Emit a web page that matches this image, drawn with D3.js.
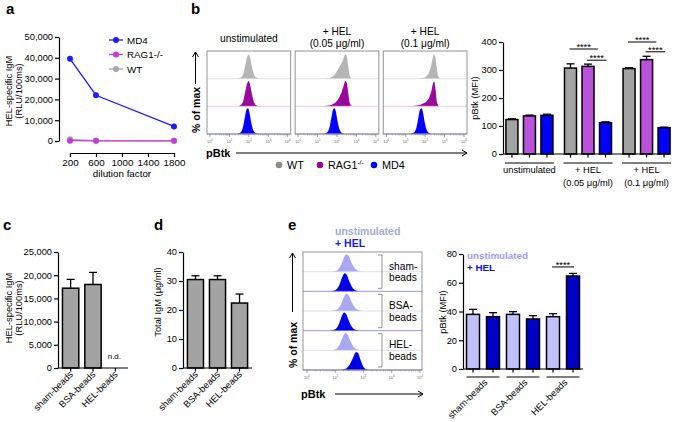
<!DOCTYPE html>
<html>
<head>
<meta charset="utf-8">
<script src="https://cdnjs.cloudflare.com/ajax/libs/d3/7.8.5/d3.min.js"></script>
<style>
  body { margin: 0; background: #fff; }
</style>
</head>
<body>
<div id="fig"></div>
<script>
// ---------- data ----------
// a: HEL-specific IgM vs serum dilution
var dilutions = [200, 600, 1800];
var aMD4 = [39500, 22000, 7000];
var aRAG = [150, 100, 100];
var aWT = [800, 150, 100];
var aTicksY = [0, 10000, 20000, 30000, 40000, 50000];
var aTicksX = [200, 600, 1000, 1400, 1800];

// b: pBtk histograms, [log10 intensity, fraction of max]
var bConds = ["unstimulated", "hel005", "hel01"];
var bGenos = ["WT", "RAG1", "MD4"];
var bHistWT = [
  [[1.4,0],[1.6,0.05],[1.72,0.2],[1.82,0.5],[1.92,0.8],[1.99,0.87],[2.06,0.76],[2.15,0.45],[2.25,0.17],[2.38,0.04],[2.55,0]],
  [[1.4,0],[1.65,0.03],[1.85,0.12],[2.0,0.27],[2.12,0.42],[2.25,0.58],[2.35,0.76],[2.43,0.88],[2.5,0.82],[2.57,0.5],[2.64,0.15],[2.75,0]],
  [[1.6,0],[1.9,0.03],[2.08,0.1],[2.2,0.22],[2.3,0.45],[2.38,0.72],[2.45,0.88],[2.52,0.8],[2.59,0.45],[2.66,0.12],[2.78,0]]
];
var bHistRAG = [
  [[1.4,0],[1.6,0.06],[1.72,0.22],[1.82,0.55],[1.92,0.85],[1.99,0.92],[2.06,0.8],[2.15,0.47],[2.25,0.18],[2.38,0.04],[2.55,0]],
  [[0.8,0],[1.5,0.02],[1.8,0.08],[1.98,0.18],[2.12,0.33],[2.24,0.52],[2.34,0.74],[2.43,0.92],[2.5,0.86],[2.58,0.48],[2.65,0.14],[2.76,0]],
  [[1.1,0],[1.6,0.03],[1.9,0.1],[2.1,0.2],[2.22,0.33],[2.32,0.55],[2.4,0.82],[2.47,0.9],[2.54,0.6],[2.61,0.15],[2.72,0]]
];
var bHistMD4 = [
  [[1.38,0],[1.58,0.06],[1.7,0.25],[1.8,0.62],[1.89,0.9],[1.96,0.93],[2.03,0.78],[2.12,0.42],[2.22,0.15],[2.35,0.03],[2.5,0]],
  [[1.3,0],[1.5,0.06],[1.62,0.25],[1.72,0.62],[1.81,0.9],[1.88,0.93],[1.95,0.78],[2.04,0.42],[2.14,0.15],[2.27,0.03],[2.42,0]],
  [[1.24,0],[1.44,0.06],[1.56,0.25],[1.66,0.62],[1.75,0.9],[1.82,0.93],[1.89,0.78],[1.98,0.42],[2.08,0.15],[2.21,0.03],[2.36,0]]
];

// b: pBtk MFI bars
var bWT = [123, 307, 305];
var bRAG = [136, 313, 337];
var bMD4 = [138, 112, 94];
var bWTerr = [3, 15, 3];
var bRAGerr = [3, 8, 12];
var bMD4err = [4, 3, 2];
var bTicksY = [0, 100, 200, 300, 400];
// significance bars: group, from bar, to bar, height (MFI)
var bSigGroup = [1, 1, 2, 2];
var bSigFrom = [0, 1, 0, 1];
var bSigTo = [1.5, 2, 1.5, 2];
var bSigAt = [375, 335, 400, 365];

// c: HEL-specific IgM after bead immunisation
var beads = ["sham-beads", "BSA-beads", "HEL-beads"];
var cMean = [17200, 18000, null];
var cErr = [1900, 2600, null];
var cTicksY = [0, 5000, 10000, 15000, 20000, 25000];

// d: total IgM
var dMean = [30.5, 30.5, 22.4];
var dErr = [1.3, 1.3, 3.1];
var dTicksY = [0, 10, 20, 30, 40];

// e: pBtk histograms per bead group (unstimulated / + HEL)
var eLanes = ["shamU", "shamH", "bsaU", "bsaH", "helU", "helH"];
var eHist = [
  [[0.85,0],[1.05,0.06],[1.18,0.28],[1.29,0.65],[1.39,0.88],[1.46,0.84],[1.56,0.52],[1.68,0.2],[1.83,0.04],[2.0,0]],
  [[0.8,0],[1.0,0.06],[1.13,0.28],[1.24,0.7],[1.33,0.92],[1.4,0.86],[1.5,0.5],[1.62,0.17],[1.77,0.03],[1.95,0]],
  [[0.85,0],[1.05,0.06],[1.18,0.28],[1.29,0.65],[1.39,0.88],[1.46,0.84],[1.56,0.52],[1.68,0.2],[1.83,0.04],[2.0,0]],
  [[0.78,0],[0.98,0.06],[1.11,0.28],[1.22,0.7],[1.31,0.92],[1.38,0.86],[1.48,0.5],[1.6,0.17],[1.75,0.03],[1.92,0]],
  [[0.82,0],[1.02,0.06],[1.15,0.28],[1.26,0.65],[1.35,0.88],[1.42,0.84],[1.52,0.52],[1.64,0.2],[1.79,0.04],[1.96,0]],
  [[1.15,0],[1.35,0.05],[1.5,0.25],[1.63,0.62],[1.73,0.9],[1.8,0.88],[1.9,0.5],[2.0,0.15],[2.12,0.03],[2.28,0]]
];
var eBracketLabels = [["sham-", "beads"], ["BSA-", "beads"], ["HEL-", "beads"]];

// e: pBtk MFI bars
var eUnstim = [38, 38, 36.4];
var eUnstimErr = [3.5, 1.9, 2.1];
var eHEL = [36.4, 34.8, 64.7];
var eHELerr = [2.8, 2.3, 1.8];
var eTicksY = [0, 20, 40, 60, 80];

// ---------- drawing ----------
var FONT = '"Liberation Sans", Arial, Helvetica, sans-serif';
var svg = d3.select("#fig").append("svg")
  .attr("width", 675).attr("height", 422)
  .attr("font-family", FONT);

function letter(t, x, y) {
  svg.append("text").attr("x", x).attr("y", y).attr("font-size", 15)
    .attr("font-weight", "bold").text(t);
}

function styleAxis(s, size) {
  s.attr("font-family", FONT).attr("font-size", size || 9.3);
  s.selectAll("path, line").attr("stroke", "#000").attr("stroke-width", 1.2);
  s.selectAll("text").attr("fill", "#000");
}

function leftAxis(y, x, ticks, fmt) {
  svg.append("g").attr("transform", "translate(" + x + ",0)")
    .call(d3.axisLeft(y).tickValues(ticks).tickFormat(fmt).tickSize(4).tickSizeOuter(0).tickPadding(2))
    .call(function (s) { styleAxis(s); });
}

function yTitle(lines, x, y, size) {
  var t = svg.append("text").attr("transform", "translate(" + x + "," + y + ") rotate(-90)")
    .attr("text-anchor", "middle").attr("font-size", size || 9.3);
  lines.forEach(function (l, i) {
    t.append("tspan").attr("x", 0).attr("dy", i ? "1.1em" : 0).text(l);
  });
  return t;
}

function bars(g, xs, y, vals, errs, fill, w) {
  vals.forEach(function (v, i) {
    if (v == null) return;
    var x = xs[i];
    g.append("line").attr("x1", x + w / 2).attr("x2", x + w / 2)
      .attr("y1", y(v)).attr("y2", y(v + errs[i])).attr("stroke", "#000").attr("stroke-width", 1.3);
    g.append("line").attr("x1", x + w / 2 - 4).attr("x2", x + w / 2 + 4)
      .attr("y1", y(v + errs[i])).attr("y2", y(v + errs[i])).attr("stroke", "#000").attr("stroke-width", 1.3);
    g.append("rect").attr("x", x).attr("y", y(v)).attr("width", w).attr("height", y(0) - y(v))
      .attr("fill", fill).attr("stroke", "#000").attr("stroke-width", 1.5);
  });
}

function baseAxis(x0, x1, y0, tickXs) {
  svg.append("line").attr("x1", x0).attr("x2", x1).attr("y1", y0).attr("y2", y0)
    .attr("stroke", "#000").attr("stroke-width", 1.2);
  tickXs.forEach(function (x) {
    svg.append("line").attr("x1", x).attr("x2", x).attr("y1", y0).attr("y2", y0 + 3.5)
      .attr("stroke", "#000").attr("stroke-width", 1.2);
  });
}

function rotLabels(names, xs, y0) {
  names.forEach(function (n, i) {
    svg.append("text").attr("transform", "translate(" + xs[i] + "," + y0 + ") rotate(-45)")
      .attr("text-anchor", "end").attr("font-size", 9.3).text(n);
  });
}

function logAxis(g, lx, y0) {
  var majors = [1, 10, 100, 1000, 10000];
  var minors = [];
  for (var k = 0; k < 4; k++) for (var m = 2; m < 10; m++) minors.push(m * Math.pow(10, k));
  g.selectAll(null).data(minors).join("line")
    .attr("x1", lx).attr("x2", lx).attr("y1", y0).attr("y2", y0 + 1.5)
    .attr("stroke", "#888").attr("stroke-width", 0.5);
  g.selectAll(null).data(majors).join("line")
    .attr("x1", lx).attr("x2", lx).attr("y1", y0).attr("y2", y0 + 3)
    .attr("stroke", "#777").attr("stroke-width", 0.7);
  var t = g.selectAll(null).data(majors).join("text")
    .attr("x", lx).attr("y", y0 + 8.5).attr("text-anchor", "middle")
    .attr("font-size", 3.8).attr("fill", "#666");
  t.append("tspan").text("10");
  t.append("tspan").attr("dy", -1.6).attr("font-size", 2.8).text(function (d) { return Math.round(Math.log10(d)); });
}

function histo(g, pts, lx, y0, y1, fill) {
  var hy = d3.scaleLinear().domain([0, 1]).range([y0, y1]);
  g.append("path").datum(pts)
    .attr("fill", fill)
    .attr("d", d3.area().curve(d3.curveMonotoneX)
      .x(function (d) { return lx(Math.pow(10, d[0])); })
      .y0(y0).y1(function (d) { return hy(d[1]); }));
}

function arrowHead(x, y, dir) {
  // dir: "up" or "right"
  var p = dir === "up" ? [[x - 3, y + 5], [x, y], [x + 3, y + 5]] : [[x - 5, y - 3], [x, y], [x - 5, y + 3]];
  svg.append("path").attr("d", d3.line()(p)).attr("fill", "none").attr("stroke", "#000").attr("stroke-width", 1);
}

// ----- panel a -----
letter("a", 6, 14);
var xA = d3.scaleLinear().domain([200, 1800]).range([70, 174]);
var yA = d3.scaleLinear().domain([0, 50000]).range([141, 37]);
leftAxis(yA, 59, aTicksY, d3.format(","));
svg.append("g").attr("transform", "translate(0,153)")
  .call(d3.axisBottom(xA).tickValues(aTicksX).tickFormat(d3.format("d")).tickSize(4).tickSizeOuter(0).tickPadding(2))
  .call(function (s) { styleAxis(s, 9.8); });
yTitle(["HEL-specific IgM", "(RLU/100ms)"], 12, 91, 9.3);
svg.append("text").attr("x", 122).attr("y", 177).attr("text-anchor", "middle").attr("font-size", 9.8).text("dilution factor");

var aSeries = [
  { name: "WT", vals: aWT, color: "#a6a6a6" },
  { name: "MD4", vals: aMD4, color: "#1c1cff" },
  { name: "RAG1-/-", vals: aRAG, color: "#c43bdc" }
];
var lineA = d3.line().x(function (d, i) { return xA(dilutions[i]); }).y(function (d) { return yA(d); });
aSeries.forEach(function (s) {
  svg.append("path").attr("d", lineA(s.vals)).attr("fill", "none").attr("stroke", s.color).attr("stroke-width", 1.3);
  svg.selectAll(null).data(s.vals).join("circle")
    .attr("cx", function (d, i) { return xA(dilutions[i]); }).attr("cy", function (d) { return yA(d); })
    .attr("r", 3).attr("fill", s.color);
});
var aLegend = [aSeries[1], aSeries[2], aSeries[0]];
var aLegY = d3.scalePoint().domain(aLegend.map(function (s) { return s.name; })).range([40, 69]);
aLegend.forEach(function (s) {
  var y = aLegY(s.name);
  svg.append("line").attr("x1", 109).attr("x2", 123).attr("y1", y).attr("y2", y).attr("stroke", s.color).attr("stroke-width", 1.3);
  svg.append("circle").attr("cx", 116).attr("cy", y).attr("r", 3).attr("fill", s.color);
  svg.append("text").attr("x", 127).attr("y", y + 3.5).attr("font-size", 9.8).text(s.name);
});

// ----- panel b histograms -----
letter("b", 191, 14);
var xBox = d3.scaleBand().domain(bConds).range([207, 467]).paddingInner(0.05);
var yLane = d3.scaleBand().domain(bGenos).range([51, 134]);
var bHistColors = ["#b5b5b5", "#9a0a9a", "#0000ff"];
var bLineColors = ["#dddddd", "#f0b8f0", "#9090ff"];
var bHists = [bHistWT, bHistRAG, bHistMD4];
bConds.forEach(function (c, ci) {
  var bx = xBox(c), bw = xBox.bandwidth();
  var lx = d3.scaleLog().domain([1, 1e4]).range([bx + 3, bx + bw - 3]);
  var g = svg.append("g");
  bGenos.forEach(function (gn, gi) {
    var top = yLane(gn), bot = top + yLane.bandwidth();
    histo(g, bHists[gi][ci], lx, bot, top, bHistColors[gi]);
    g.append("line").attr("x1", bx).attr("x2", bx + bw).attr("y1", bot).attr("y2", bot)
      .attr("stroke", bLineColors[gi]).attr("stroke-width", 0.8);
  });
  g.append("rect").attr("x", bx).attr("y", 51).attr("width", bw).attr("height", 83)
    .attr("fill", "none").attr("stroke", "#888").attr("stroke-width", 0.9);
  logAxis(g, lx, 134);
});
var bTitles = [["unstimulated"], ["+ HEL", "(0.05 μg/ml)"], ["+ HEL", "(0.1 μg/ml)"]];
bTitles.forEach(function (lines, i) {
  var cx = xBox(bConds[i]) + xBox.bandwidth() / 2;
  lines.forEach(function (l, j) {
    var y = lines.length === 1 ? 42 : 35 + j * 12;
    svg.append("text").attr("x", cx).attr("y", y).attr("text-anchor", "middle").attr("font-size", 10.2).text(l);
  });
});
svg.append("text").attr("transform", "translate(200,133) rotate(-90)").attr("font-size", 10.5)
  .attr("font-weight", "bold").text("% of max");
svg.append("line").attr("x1", 195.5).attr("x2", 195.5).attr("y1", 84).attr("y2", 52).attr("stroke", "#000").attr("stroke-width", 1);
arrowHead(195.5, 52, "up");
svg.append("text").attr("x", 206).attr("y", 157).attr("font-size", 11).attr("font-weight", "bold").text("pBtk");
svg.append("line").attr("x1", 236).attr("x2", 467).attr("y1", 153).attr("y2", 153).attr("stroke", "#000").attr("stroke-width", 1);
arrowHead(467, 153, "right");
var bLegColors = ["#8c8c8c", "#8e0a8e", "#0000ff"];
var bLegX = [279, 320, 374];
var bLegText = ["WT", "RAG1", "MD4"];
bLegText.forEach(function (t, i) {
  svg.append("circle").attr("cx", bLegX[i]).attr("cy", 165).attr("r", 3.3).attr("fill", bLegColors[i]);
  var tx = svg.append("text").attr("x", bLegX[i] + 8).attr("y", 169).attr("font-size", 10.8).text(t);
  if (i === 1) tx.append("tspan").attr("dy", -4).attr("font-size", 6.5).text("-/-");
});

// ----- panel b bars -----
var x0B = d3.scaleBand().domain(bConds).range([503, 673]).paddingInner(0.197).paddingOuter(0.05);
var x1B = d3.scaleBand().domain(bGenos).range([0, x0B.bandwidth()]).paddingInner(0.314);
var yB = d3.scaleLinear().domain([0, 400]).range([154, 42]);
leftAxis(yB, 503, bTicksY, d3.format("d"));
yTitle(["pBtk (MFI)"], 478, 98, 9.3);
var bVals = [bWT, bRAG, bMD4], bErrs = [bWTerr, bRAGerr, bMD4err];
var bBarColors = ["#a3a3a3", "#bb52db", "#0000ff"];
var gB = svg.append("g");
var bTickXs = [];
bGenos.forEach(function (gn, gi) {
  var xs = bConds.map(function (c) { return x0B(c) + x1B(gn); });
  xs.forEach(function (x) { bTickXs.push(x + x1B.bandwidth() / 2); });
  bars(gB, xs, yB, bVals[gi], bErrs[gi], bBarColors[gi], x1B.bandwidth());
});
baseAxis(503, 670, yB(0), bTickXs);
function barCenter(gi, pos) {
  var step = x1B.step();
  return x0B(bConds[gi]) + x1B.bandwidth() / 2 + pos * step;
}
bSigAt.forEach(function (v, i) {
  var xa = barCenter(bSigGroup[i], bSigFrom[i]) - 1, xb = barCenter(bSigGroup[i], bSigTo[i]) + 1;
  svg.append("line").attr("x1", xa).attr("x2", xb).attr("y1", yB(v)).attr("y2", yB(v)).attr("stroke", "#000").attr("stroke-width", 1);
  svg.append("text").attr("x", (xa + xb) / 2).attr("y", yB(v) + 1).attr("text-anchor", "middle").attr("font-size", 9.3).text("****");
});
var bGroupLabels = [["unstimulated"], ["+ HEL", "(0.05 μg/ml)"], ["+ HEL", "(0.1 μg/ml)"]];
bConds.forEach(function (c, i) {
  var gx = x0B(c), gw = x0B.bandwidth();
  svg.append("line").attr("x1", gx - 1).attr("x2", gx + gw + 1).attr("y1", 163).attr("y2", 163).attr("stroke", "#000").attr("stroke-width", 1);
  bGroupLabels[i].forEach(function (l, j) {
    svg.append("text").attr("x", gx + gw / 2).attr("y", 173 + j * 13).attr("text-anchor", "middle").attr("font-size", 9.3).text(l);
  });
});

// ----- panel c -----
letter("c", 3, 230);
var yC = d3.scaleLinear().domain([0, 25000]).range([368, 252]);
var xC = d3.scaleBand().domain(beads).range([58, 128]).paddingInner(0.27).paddingOuter(0.2);
leftAxis(yC, 58, cTicksY, d3.format(","));
yTitle(["HEL-specific IgM", "(RLU/100ms)"], 12, 308, 9.3);
bars(svg.append("g"), beads.map(function (b) { return xC(b); }), yC, cMean, cErr, "#a3a3a3", xC.bandwidth());
var cCenters = beads.map(function (b) { return xC(b) + xC.bandwidth() / 2; });
baseAxis(58, 128, yC(0), cCenters);
svg.append("text").attr("x", cCenters[2] - 1).attr("y", 359).attr("text-anchor", "middle").attr("font-size", 8).text("n.d.");
rotLabels(beads, cCenters.map(function (x) { return x + 3; }), 375);

// ----- panel d -----
letter("d", 154, 230);
var yD = d3.scaleLinear().domain([0, 40]).range([368, 252]);
var xD = d3.scaleBand().domain(beads).range([183, 252]).paddingInner(0.27).paddingOuter(0.2);
leftAxis(yD, 183, dTicksY, d3.format("d"));
yTitle(["Total IgM (μg/ml)"], 161, 302, 9.3);
bars(svg.append("g"), beads.map(function (b) { return xD(b); }), yD, dMean, dErr, "#a3a3a3", xD.bandwidth());
var dCenters = beads.map(function (b) { return xD(b) + xD.bandwidth() / 2; });
baseAxis(183, 252, yD(0), dCenters);
rotLabels(beads, dCenters.map(function (x) { return x + 3; }), 375);

// ----- panel e histograms -----
letter("e", 288, 230);
var eBoxX = 303, eBoxW = 119, eTop = 252, eBot = 370;
var yLaneE = d3.scaleBand().domain(eLanes).range([eTop, eBot]);
var lxE = d3.scaleLog().domain([1, 1e4]).range([eBoxX + 4, eBoxX + eBoxW - 2]);
var gE = svg.append("g");
eLanes.forEach(function (ln, i) {
  var top = yLaneE(ln), bot = top + yLaneE.bandwidth();
  var light = i % 2 === 0;
  histo(gE, eHist[i], lxE, bot, top, light ? "#a9a9f2" : "#0000e8");
  gE.append("line").attr("x1", eBoxX).attr("x2", eBoxX + eBoxW).attr("y1", bot).attr("y2", bot)
    .attr("stroke", light ? "#d4d4f6" : "#7c7ce8").attr("stroke-width", 0.8);
});
gE.append("rect").attr("x", eBoxX).attr("y", eTop).attr("width", eBoxW).attr("height", eBot - eTop)
  .attr("fill", "none").attr("stroke", "#888").attr("stroke-width", 0.9);
logAxis(gE, lxE, eBot);
eBracketLabels.forEach(function (lab, i) {
  var top = yLaneE(eLanes[i * 2]) + 3, bot = yLaneE(eLanes[i * 2 + 1]) + yLaneE.bandwidth() - 3;
  svg.append("path").attr("d", d3.line()([[378, top], [382, top], [382, bot], [378, bot]]))
    .attr("fill", "none").attr("stroke", "#888").attr("stroke-width", 0.9);
  lab.forEach(function (l, j) {
    svg.append("text").attr("x", 389).attr("y", (top + bot) / 2 - 2 + j * 11.5).attr("font-size", 10.2).text(l);
  });
});
svg.append("text").attr("x", 335).attr("y", 235).attr("font-size", 10.5).attr("font-weight", "bold")
  .attr("fill", "#a3a9d8").text("unstimulated");
svg.append("text").attr("x", 335).attr("y", 247).attr("font-size", 10.5).attr("font-weight", "bold")
  .attr("fill", "#1a1aee").text("+ HEL");
svg.append("text").attr("transform", "translate(297,368) rotate(-90)").attr("font-size", 10.5)
  .attr("font-weight", "bold").text("% of max");
svg.append("line").attr("x1", 292.5).attr("x2", 292.5).attr("y1", 312).attr("y2", 253).attr("stroke", "#000").attr("stroke-width", 1);
arrowHead(292.5, 253, "up");
svg.append("text").attr("x", 301).attr("y", 398).attr("font-size", 11).attr("font-weight", "bold").text("pBtk");
svg.append("line").attr("x1", 335).attr("x2", 423).attr("y1", 394).attr("y2", 394).attr("stroke", "#000").attr("stroke-width", 1);
arrowHead(423, 394, "right");

// ----- panel e bars -----
var eStim = ["unstim", "hel"];
var x0E = d3.scaleBand().domain(beads).range([463, 583]).paddingInner(0.175).paddingOuter(0.0875);
var x1E = d3.scaleBand().domain(eStim).range([0, x0E.bandwidth()]).paddingInner(0.35);
var yE = d3.scaleLinear().domain([0, 80]).range([369, 254]);
leftAxis(yE, 463, eTicksY, d3.format("d"));
yTitle(["pBtk (MFI)"], 446, 312, 9.3);
var gEB = svg.append("g");
bars(gEB, beads.map(function (b) { return x0E(b) + x1E("unstim"); }), yE, eUnstim, eUnstimErr, "#c1c1ff", x1E.bandwidth());
bars(gEB, beads.map(function (b) { return x0E(b) + x1E("hel"); }), yE, eHEL, eHELerr, "#0000c4", x1E.bandwidth());
var eTickXs = [];
beads.forEach(function (b) {
  eStim.forEach(function (s) { eTickXs.push(x0E(b) + x1E(s) + x1E.bandwidth() / 2); });
});
baseAxis(463, 583, yE(0), eTickXs);
beads.forEach(function (b) {
  var gx = x0E(b), gw = x0E.bandwidth();
  svg.append("line").attr("x1", gx).attr("x2", gx + gw).attr("y1", 377).attr("y2", 377).attr("stroke", "#000").attr("stroke-width", 1);
});
rotLabels(beads, beads.map(function (b) { return x0E(b) + x0E.bandwidth() / 2 + 5; }), 383);
svg.append("text").attr("x", 467).attr("y", 259).attr("font-size", 9.8).attr("font-weight", "bold")
  .attr("fill", "#9a9aff").text("unstimulated");
svg.append("text").attr("x", 467).attr("y", 271).attr("font-size", 9.8).attr("font-weight", "bold")
  .attr("fill", "#1414d0").text("+ HEL");
(function () {
  var xa = x0E("HEL-beads") + x1E.bandwidth() / 2 - 1, xb = x0E("HEL-beads") + x1E("hel") + x1E.bandwidth() / 2 + 1;
  svg.append("line").attr("x1", xa).attr("x2", xb).attr("y1", yE(71)).attr("y2", yE(71)).attr("stroke", "#000").attr("stroke-width", 1);
  svg.append("text").attr("x", (xa + xb) / 2).attr("y", yE(71) + 1).attr("text-anchor", "middle").attr("font-size", 9.3).text("****");
})();
</script>
</body>
</html>
